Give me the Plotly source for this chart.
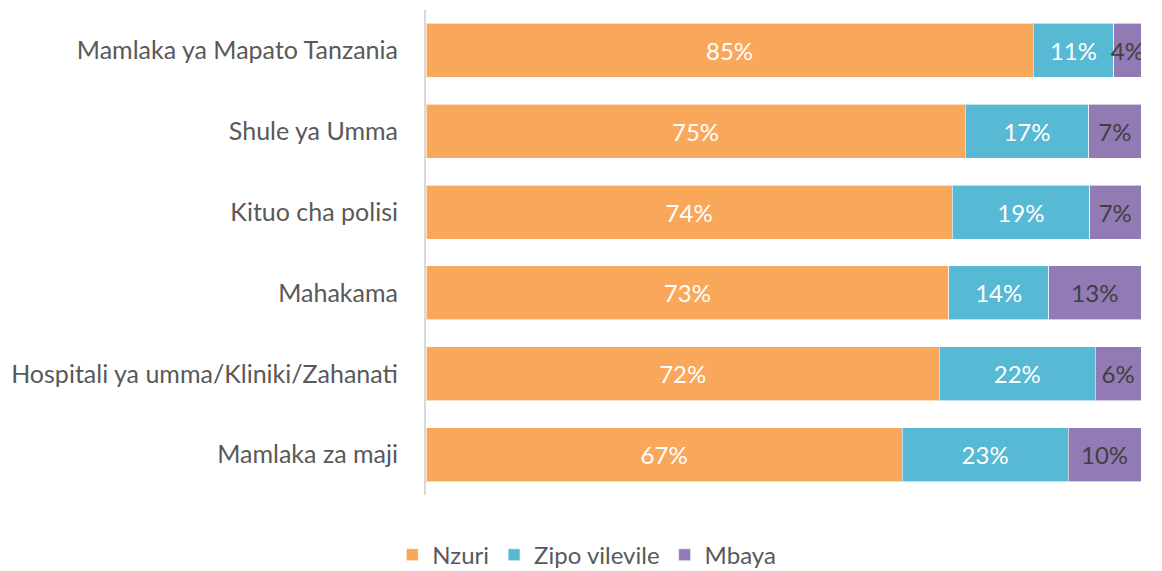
import plotly.graph_objects as go

categories = [
    "Mamlaka ya Mapato Tanzania",
    "Shule ya Umma",
    "Kituo cha polisi",
    "Mahakama",
    "Hospitali ya umma/Kliniki/Zahanati",
    "Mamlaka za maji",
]
nzuri = [84.9, 75.4, 73.6, 73.1, 71.8, 66.6]
zipo = [11.3, 17.3, 19.2, 14.0, 21.8, 23.2]
mbaya = [3.8, 7.3, 7.2, 12.9, 6.4, 10.2]
series_names = ["Nzuri", "Zipo vilevile", "Mbaya"]

colors = ["#F9A75A", "#57B9D3", "#927BB4"]
text_colors = ["#FFFFFF", "#FFFFFF", "#404040"]
FONT = "Lato"

fig = go.Figure()
for name, vals, col, tcol in zip(series_names, [nzuri, zipo, mbaya], colors, text_colors):
    fig.add_trace(go.Bar(
        y=categories, x=vals, name=name, orientation="h",
        marker=dict(color=col, line=dict(color="rgba(255,255,255,0.6)", width=1)),
        text=[f"{round(v)}%" for v in vals],
        textposition="inside", insidetextanchor="middle",
        textangle=0, constraintext="none",
        textfont=dict(color=tcol, size=24, family=FONT),
        hoverinfo="skip",
    ))

fig.update_layout(
    barmode="stack",
    bargap=0.333,
    width=1162, height=571,
    margin=dict(l=426, r=21, t=10, b=76, autoexpand=False),
    plot_bgcolor="white", paper_bgcolor="white",
    font=dict(family=FONT, size=24, color="#595959"),
    uniformtext=dict(minsize=24, mode="show"),
    showlegend=True,
    legend=dict(
        orientation="h", xref="container", x=0.505, xanchor="center",
        yref="paper", y=-0.124, yanchor="middle",
        font=dict(size=24, color="#595959", family=FONT),
        itemwidth=30, traceorder="normal",
    ),
    xaxis=dict(range=[0, 100], visible=False, fixedrange=True),
    yaxis=dict(
        autorange="reversed", showline=True, linecolor="#D9D9D9", linewidth=2,
        ticks="", showgrid=False, ticklabelstandoff=21, automargin=False,
        tickfont=dict(size=25, color="#595959", family=FONT),
    ),
)

fig.write_html("out.html", config={"displayModeBar": False},
               post_script="document.body.style.margin='0';")
